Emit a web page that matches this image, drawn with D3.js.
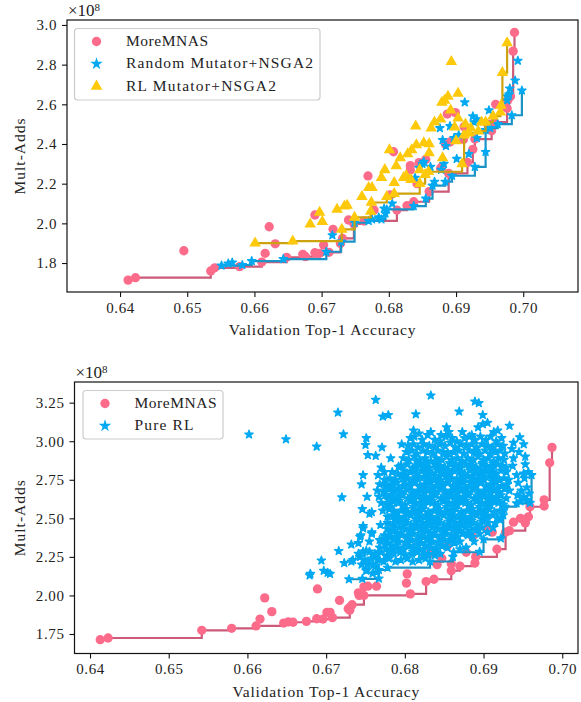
<!DOCTYPE html>
<html>
<head>
<meta charset="utf-8">
<script src="https://cdn.jsdelivr.net/npm/d3@7"></script>
<style>
  html, body { margin: 0; padding: 0; background: #fff; }
  svg { display: block; }
  text { font-family: "Liberation Serif", serif; fill: #222; }
</style>
</head>
<body>
<div id="chart"></div>
<script>
// values: [top-1 accuracy, mult-adds / 1e8]
const xTicksTop = [0.64, 0.65, 0.66, 0.67, 0.68, 0.69, 0.70];
const yTicksTop = [1.8, 2.0, 2.2, 2.4, 2.6, 2.8, 3.0];
const xTicksBottom = [0.64, 0.65, 0.66, 0.67, 0.68, 0.69, 0.70];
const yTicksBottom = [1.75, 2.0, 2.25, 2.5, 2.75, 3.0, 3.25];

const moreMnasTop = [
  [.6412,1.714],[.6423,1.726],[.6495,1.862],[.6535,1.76],[.6541,1.776],[.6578,1.782],[.6611,1.805],[.6616,1.849],
  [.6622,1.983],[.6631,1.897],[.6648,1.829],[.6672,1.844],[.6676,1.832],[.669,2.042],[.669,1.852],[.6697,1.849],
  [.6703,1.891],[.6711,1.854],[.6717,1.97],[.6728,1.899],[.6731,1.924],[.674,2.017],[.6748,1.997],[.6763,2.012],
  [.6769,2.239],[.6778,2.067],[.6802,2.143],[.6807,2.361],[.6812,2.067],[.6827,2.089],[.6837,2.109],[.686,2.16],
  [.6832,2.269],[.6832,2.291],[.6842,2.2],[.6845,2.306],[.6855,2.322],[.6879,2.285],[.6877,2.277],[.6889,2.252],
  [.6887,2.551],[.6899,2.558],[.6917,2.307],[.6925,2.373],[.6928,2.425],[.6911,2.423],[.6912,2.487],[.6884,2.4],
  [.6891,2.41],[.6953,2.467],[.6947,2.5],[.6957,2.51],[.6959,2.6],[.6976,2.58],[.6977,2.62],[.6981,2.64],
  [.6985,2.868],[.6987,2.962]
];

const randomMutator = [
  [.6551,1.787],[.6561,1.798],[.6567,1.803],[.6582,1.79],[.6596,1.81],[.6643,1.82],[.6707,1.857],[.6716,1.94],
  [.6729,1.908],[.6749,2.003],[.677,2.012],[.6775,2.02],[.6785,2.03],[.6789,2.02],[.6793,2.075],[.6797,2.07],
  [.6795,2.05],[.6805,2.1],[.6837,2.087],[.6855,2.125],[.6865,2.19],[.6868,2.21],[.6884,2.21],[.6894,2.24],
  [.6839,2.23],[.6845,2.28],[.685,2.3],[.6852,2.31],[.6862,2.285],[.6878,2.27],[.6882,2.3],[.6901,2.325],
  [.6919,2.35],[.6928,2.285],[.6944,2.36],[.688,2.42],[.6885,2.39],[.6876,2.48],[.6891,2.49],[.6904,2.445],
  [.6897,2.43],[.6925,2.54],[.6927,2.51],[.6931,2.525],[.6931,2.43],[.6913,2.61],[.6949,2.57],[.6944,2.47],
  [.6951,2.48],[.6962,2.5],[.6983,2.545],[.6976,2.62],[.6979,2.65],[.698,2.68],[.6988,2.72],[.6992,2.82],
  [.6998,2.67],[.6976,2.64]
];

const rlMutator = [
  [.6601,1.9],[.6657,1.91],[.6683,1.996],[.6701,2.008],[.6697,2.055],[.6723,2.07],[.6734,2.087],[.6738,2.09],
  [.673,1.97],[.6749,2.03],[.676,2.135],[.6773,2.06],[.6774,2.105],[.677,2.18],[.6775,2.18],[.6789,2.23],
  [.6794,2.27],[.6797,2.135],[.6808,2.15],[.6808,2.205],[.6801,2.37],[.6811,2.29],[.6817,2.33],[.6822,2.23],
  [.6826,2.24],[.6828,2.35],[.6834,2.37],[.6841,2.395],[.6833,2.22],[.6846,2.27],[.6846,2.2],[.6854,2.245],
  [.6859,2.26],[.686,2.355],[.6852,2.405],[.686,2.4],[.684,2.49],[.6863,2.48],[.6868,2.51],[.6877,2.525],
  [.6879,2.61],[.6883,2.62],[.6888,2.64],[.6903,2.655],[.6893,2.815],[.6892,2.57],[.6903,2.53],[.6898,2.485],
  [.69,2.415],[.688,2.33],[.6909,2.3],[.6912,2.445],[.6914,2.5],[.6919,2.455],[.6922,2.48],[.6933,2.465],
  [.6938,2.51],[.6944,2.51],[.6955,2.54],[.6966,2.56],[.6967,2.595],[.6969,2.76],[.6976,2.91]
];

const moreMnasBottom = [
  [.6413,1.713],[.6423,1.724],[.6542,1.774],[.658,1.787],[.6611,1.802],[.6616,1.847],[.6622,1.984],[.6631,1.895],
  [.6646,1.821],[.6652,1.828],[.6658,1.826],[.6675,1.832],[.6688,1.849],[.6689,2.042],[.6696,1.847],[.6701,1.89],
  [.6705,1.89],[.6708,1.856],[.6717,1.968],[.6728,1.914],[.673,1.904],[.6731,1.926],[.6733,1.94],[.6741,2.017],
  [.6742,2.0],[.6748,2.0],[.6748,2.056],[.6753,2.06],[.6764,2.06],[.6802,2.08],[.6803,2.14],[.6807,2.01],
  [.6827,2.09],[.6837,2.105],[.6841,2.2],[.6847,2.24],[.6854,2.32],[.6859,2.205],[.6859,2.16],[.687,2.19],
  [.6878,2.28],[.6889,2.21],[.689,2.25],[.6832,2.27],[.6886,2.38],[.6904,2.43],[.6911,2.41],[.6917,2.3],
  [.6928,2.41],[.6933,2.42],[.6938,2.475],[.6947,2.5],[.6953,2.47],[.6957,2.51],[.6959,2.575],[.6977,2.58],
  [.6977,2.62],[.6984,2.86],[.6987,2.96]
];

const pureRl = [
  // stragglers around the cloud
  [.6602,3.044],[.6649,3.013],[.6688,2.965],[.6694,2.227],[.6679,2.13],[.668,2.14],[.6697,2.16],[.6702,2.147],
  [.6705,2.14],[.6716,2.288],[.672,2.636],[.6722,3.045],[.6715,3.186],[.6763,3.268],[.6833,3.297],[.6889,3.258],
  [.6894,3.247],[.6869,3.193],[.6814,3.175],[.6899,3.17],[.6772,3.16],[.6779,3.17],[.6933,3.1],[.6946,3.026],
  // lower edge of the cloud
  [.6729,2.105],[.6746,2.108],[.6767,2.11],[.6778,2.18],[.6832,2.22],[.6861,2.25],[.6895,2.283],[.69,2.364],
  [.6922,2.37],[.6927,2.576],[.6942,2.597],[.6961,2.78],
  // outliers on the left flank
  [.6751,3.02],[.675,2.976],[.6771,2.96],[.6796,2.98],[.6753,2.91],[.6763,2.905],[.6782,2.89],[.677,2.83],
  [.6792,2.835],[.6747,2.78],[.6766,2.78],[.6774,2.8],[.6745,2.72],[.6752,2.64],[.6746,2.56],[.6755,2.53],
  [.6758,2.54],[.6769,2.457],[.6747,2.45],[.6744,2.39],[.6758,2.41],[.6732,2.33],[.6741,2.34],[.6755,2.35],
  [.6741,2.27],[.6751,2.29],[.6734,2.23],[.6723,2.21],[.6743,2.25],[.6757,2.24],[.6751,2.16],[.6764,2.15],
  [.6752,2.2],[.6763,2.19],[.6745,2.2],
  [.6747,2.284],[.6743,2.25],[.6732,2.22],[.6751,2.165],[.676,2.197],[.6768,2.23],[.6777,2.25],[.6785,2.294],
  [.6758,2.4],[.6747,2.435],[.6768,2.36],[.6775,2.38],[.6743,2.38],[.6755,2.284],[.6764,2.262],[.6749,2.23],
  [.6753,2.208],[.6759,2.143],[.6767,2.165],
  // right lobe
  [.6938,2.99],[.6951,2.98],[.6936,2.95],[.6945,2.93],[.6953,2.9],[.6938,2.89],[.6937,2.84],[.6953,2.85],
  [.6942,2.78],[.6951,2.79],[.6957,2.8],[.6944,2.73],[.6952,2.76],[.6948,2.68],[.6955,2.7],[.6943,2.65],
  [.6951,2.64],[.6958,2.66],[.6947,2.61],[.6955,2.62],[.6959,2.6],
  // underside of the cloud, right of centre
  [.6915,2.47],[.6921,2.49],[.6925,2.52],[.6912,2.44],[.6905,2.41],[.6895,2.4],[.6888,2.35],[.6878,2.31],
  [.687,2.3],[.6862,2.28],
  // main cloud, top to bottom
  [.6811,3.07],[.6818,3.05],[.6833,3.06],[.6846,3.04],[.6853,3.09],[.6856,3.06],[.6873,3.06],[.6885,3.04],
  [.6893,3.09],[.6899,3.11],[.6905,3.12],[.6913,3.06],[.6918,3.07],
  [.6807,3.02],[.6812,3.03],[.6822,3.01],[.6829,3.04],[.6838,3.01],[.6845,3.0],[.6852,3.03],[.686,3.02],
  [.6866,3.0],[.6876,3.02],[.6882,3.03],[.6889,3.01],[.6896,3.03],[.6903,3.01],[.6909,3.03],[.6916,3.0],[.6923,3.02],
  [.6804,2.97],[.6811,2.98],[.6817,2.96],[.6824,2.98],[.6831,2.97],[.6838,2.96],[.6844,2.98],[.6851,2.97],
  [.6858,2.99],[.6864,2.96],[.6871,2.98],[.6878,2.97],[.6885,2.98],[.6891,2.96],[.6898,2.98],[.6905,2.97],
  [.6911,2.96],[.6918,2.98],[.6925,2.97],
  [.6802,2.93],[.6809,2.94],[.6815,2.92],[.6823,2.94],[.6829,2.93],[.6836,2.92],[.6842,2.94],[.6849,2.93],
  [.6855,2.92],[.6862,2.93],[.6869,2.94],[.6875,2.92],[.6882,2.94],[.6888,2.93],[.6895,2.92],[.6902,2.94],
  [.6908,2.92],[.6915,2.93],[.6921,2.94],[.6927,2.92],
  [.6798,2.89],[.6805,2.88],[.6812,2.9],[.6819,2.88],[.6826,2.89],[.6833,2.87],[.684,2.89],[.6847,2.88],
  [.6853,2.9],[.686,2.88],[.6867,2.89],[.6873,2.87],[.688,2.89],[.6887,2.88],[.6893,2.9],[.69,2.88],
  [.6906,2.89],[.6913,2.87],[.6919,2.89],[.6926,2.88],
  [.6795,2.84],[.6803,2.85],[.681,2.83],[.6817,2.85],[.6824,2.84],[.6831,2.83],[.6838,2.85],[.6845,2.84],
  [.6851,2.83],[.6858,2.85],[.6865,2.84],[.6871,2.83],[.6878,2.85],[.6885,2.84],[.6891,2.83],[.6898,2.85],
  [.6904,2.84],[.6911,2.83],[.6918,2.85],[.6924,2.84],[.6929,2.83],
  [.6784,2.8],[.6791,2.79],[.6799,2.81],[.6807,2.8],[.6814,2.79],[.6821,2.81],[.6828,2.8],[.6835,2.79],
  [.6842,2.81],[.6849,2.8],[.6856,2.79],[.6862,2.81],[.6869,2.8],[.6876,2.79],[.6883,2.81],[.6889,2.8],
  [.6896,2.79],[.6902,2.81],[.6909,2.8],[.6916,2.79],[.6922,2.81],[.6929,2.8],
  [.6774,2.75],[.6781,2.76],[.6788,2.75],[.6795,2.77],[.6803,2.76],[.681,2.75],[.6817,2.76],[.6824,2.77],
  [.6831,2.75],[.6838,2.76],[.6845,2.75],[.6852,2.77],[.6859,2.76],[.6866,2.75],[.6873,2.76],[.688,2.77],
  [.6887,2.75],[.6893,2.76],[.69,2.75],[.6907,2.77],[.6914,2.76],[.692,2.75],[.6926,2.76],[.6932,2.75],
  [.6768,2.72],[.6775,2.71],[.6783,2.72],[.679,2.73],[.6798,2.71],[.6805,2.72],[.6812,2.73],[.6819,2.71],
  [.6826,2.72],[.6833,2.73],[.684,2.71],[.6847,2.72],[.6854,2.73],[.6861,2.71],[.6868,2.72],[.6875,2.73],
  [.6882,2.71],[.6889,2.72],[.6896,2.73],[.6903,2.71],[.691,2.72],[.6916,2.73],[.6923,2.71],[.693,2.72],
  [.6765,2.68],[.6773,2.67],[.678,2.69],[.6787,2.68],[.6794,2.67],[.6802,2.69],[.6809,2.68],[.6816,2.67],
  [.6823,2.69],[.683,2.68],[.6837,2.67],[.6844,2.69],[.6851,2.68],[.6858,2.67],[.6865,2.69],[.6872,2.68],
  [.6879,2.67],[.6886,2.69],[.6893,2.68],[.69,2.67],[.6907,2.69],[.6914,2.68],[.692,2.67],[.6927,2.69],[.6933,2.68],
  [.6767,2.64],[.6775,2.65],[.6782,2.63],[.6789,2.64],[.6797,2.65],[.6804,2.63],[.6811,2.64],[.6818,2.65],
  [.6825,2.63],[.6832,2.64],[.6839,2.65],[.6846,2.63],[.6853,2.64],[.686,2.65],[.6867,2.63],[.6874,2.64],
  [.6881,2.65],[.6888,2.63],[.6895,2.64],[.6902,2.65],[.6909,2.63],[.6916,2.64],[.6922,2.65],[.6929,2.63],
  [.677,2.6],[.6777,2.59],[.6785,2.61],[.6792,2.6],[.68,2.59],[.6807,2.61],[.6814,2.6],[.6821,2.59],
  [.6828,2.61],[.6835,2.6],[.6842,2.59],[.6849,2.61],[.6856,2.6],[.6863,2.59],[.687,2.61],[.6877,2.6],
  [.6884,2.59],[.6891,2.61],[.6898,2.6],[.6905,2.59],[.6912,2.61],[.6919,2.6],[.6925,2.59],
  [.6772,2.55],[.678,2.56],[.6787,2.54],[.6795,2.55],[.6802,2.56],[.6809,2.54],[.6816,2.55],[.6823,2.56],
  [.683,2.54],[.6837,2.55],[.6844,2.56],[.6851,2.54],[.6858,2.55],[.6865,2.56],[.6872,2.54],[.6879,2.55],
  [.6886,2.56],[.6893,2.54],[.69,2.55],[.6907,2.56],[.6914,2.54],[.6921,2.55],[.6926,2.56],
  [.6778,2.51],[.6785,2.52],[.6793,2.5],[.68,2.51],[.6807,2.52],[.6814,2.5],[.6821,2.51],[.6828,2.52],
  [.6835,2.5],[.6842,2.51],[.6849,2.52],[.6856,2.5],[.6863,2.51],[.687,2.52],[.6877,2.5],[.6884,2.51],
  [.6891,2.52],[.6898,2.5],[.6905,2.51],[.6912,2.52],[.6918,2.5],
  [.6778,2.47],[.6786,2.46],[.6793,2.48],[.6801,2.47],[.6808,2.46],[.6815,2.48],[.6822,2.47],[.6829,2.46],
  [.6836,2.48],[.6843,2.47],[.685,2.46],[.6857,2.48],[.6864,2.47],[.6871,2.46],[.6878,2.48],[.6885,2.47],
  [.6892,2.46],[.6899,2.48],[.6906,2.47],
  [.6778,2.43],[.6785,2.42],[.6793,2.44],[.68,2.43],[.6807,2.42],[.6814,2.44],[.6821,2.43],[.6828,2.42],
  [.6835,2.44],[.6842,2.43],[.6849,2.42],[.6856,2.44],[.6863,2.43],[.687,2.42],[.6877,2.44],[.6884,2.42],
  [.6891,2.43],[.6898,2.44],
  [.6774,2.39],[.6782,2.38],[.6789,2.4],[.6796,2.39],[.6803,2.38],[.681,2.4],[.6817,2.39],[.6824,2.38],
  [.6831,2.4],[.6838,2.39],[.6845,2.38],[.6852,2.4],[.6859,2.39],[.6866,2.38],[.6873,2.4],[.688,2.39],[.6886,2.38],
  [.677,2.35],[.6778,2.34],[.6785,2.36],[.6792,2.35],[.68,2.34],[.6807,2.36],[.6814,2.35],[.6821,2.34],
  [.6828,2.36],[.6835,2.35],[.6842,2.34],[.6849,2.36],[.6856,2.35],[.6863,2.34],[.687,2.35],
  [.6768,2.31],[.6776,2.3],[.6783,2.32],[.679,2.31],[.6798,2.3],[.6805,2.32],[.6812,2.31],[.6819,2.3],
  [.6826,2.32],[.6833,2.31],[.684,2.3],[.6847,2.32],[.6854,2.31],
  [.6762,2.27],[.677,2.28],[.6778,2.26],[.6786,2.27],[.6794,2.28],[.6801,2.26],[.6809,2.27],[.6816,2.28],
  [.6823,2.26],[.683,2.27],[.6838,2.26],[.6845,2.27],
  [.6765,2.23],[.6773,2.22],[.678,2.24],[.6788,2.22],[.6795,2.23],[.6803,2.24],[.681,2.22],[.6818,2.23],[.6826,2.24],
  // the dense core, where the stars overlap
  [.6815,2.87],[.6829,2.86],[.6843,2.865],[.6857,2.86],[.6871,2.855],[.6885,2.865],[.6899,2.86],[.6912,2.855],
  [.6813,2.82],[.6827,2.825],[.6841,2.82],[.6855,2.815],[.6869,2.825],[.6883,2.82],[.6897,2.815],[.6911,2.82],
  [.6802,2.78],[.6816,2.785],[.683,2.78],[.6844,2.775],[.6858,2.785],[.6872,2.78],[.6886,2.775],[.69,2.785],[.6914,2.78],
  [.6785,2.735],[.6799,2.74],[.6813,2.745],[.6827,2.74],[.6841,2.735],[.6855,2.745],[.6869,2.74],[.6883,2.735],[.6897,2.745],[.6911,2.74],
  [.6778,2.7],[.6792,2.695],[.6806,2.705],[.682,2.7],[.6834,2.695],[.6848,2.705],[.6862,2.7],[.6876,2.695],[.689,2.705],[.6904,2.7],[.6918,2.695],
  [.6783,2.655],[.6797,2.66],[.6811,2.655],[.6825,2.665],[.6839,2.66],[.6853,2.655],[.6867,2.665],[.6881,2.66],[.6895,2.655],[.6909,2.665],
  [.6779,2.62],[.6793,2.615],[.6807,2.625],[.6821,2.62],[.6835,2.615],[.6849,2.625],[.6863,2.62],[.6877,2.615],[.6891,2.625],[.6905,2.62],[.6919,2.615],
  [.6783,2.575],[.6797,2.58],[.6811,2.575],[.6825,2.585],[.6839,2.58],[.6853,2.575],[.6867,2.585],[.6881,2.58],[.6895,2.575],[.6909,2.585],
  [.6789,2.53],[.6803,2.535],[.6817,2.53],[.6831,2.525],[.6845,2.535],[.6859,2.53],[.6873,2.525],[.6887,2.535],[.6901,2.53],
  [.6787,2.49],[.6801,2.485],[.6815,2.495],[.6829,2.49],[.6843,2.485],[.6857,2.495],[.6871,2.49],[.6885,2.485],[.6899,2.495],
  [.6785,2.45],[.6799,2.455],[.6813,2.45],[.6827,2.445],[.6841,2.455],[.6855,2.45],[.6869,2.445],[.6883,2.455],
  [.6781,2.41],[.6795,2.405],[.6809,2.415],[.6823,2.41],[.6837,2.405],[.6851,2.415],[.6865,2.41],[.6879,2.405],
  [.6777,2.37],[.6791,2.375],[.6805,2.37],[.6819,2.365],[.6833,2.375],[.6847,2.37],[.6861,2.365],
  [.6775,2.33],[.6789,2.325],[.6803,2.335],[.6817,2.33],[.6831,2.325],[.6845,2.335],
  [.6782,2.285],[.6796,2.29],[.681,2.285],[.6824,2.295],[.6838,2.29]
];

const seriesColor = { red: "#fd6b8b", blue: "#00a9f1", yellow: "#fdc90a" };
const lineColor = { red: "#cc5a78", blue: "#1b93c6", yellow: "#cca20f" };

const width = 581;
const height = 702;

const svg = d3.select("#chart").append("svg")
  .attr("width", width)
  .attr("height", height);

const markers = {
  circle: d3.symbol().type(d3.symbolCircle).size(68),
  star: d3.symbol().type(d3.symbolStar).size(21),
  triangle: d3.symbol().type(d3.symbolTriangle).size(58)
};

// lower-right envelope, walked from the most accurate point to the left
function paretoFront(points) {
  const sorted = points.slice().sort((a, b) => b[0] - a[0] || b[1] - a[1]);
  const front = [];
  let best = Infinity;
  sorted.forEach((p) => {
    if (p[1] < best) {
      front.push(p);
      best = p[1];
    }
  });
  return front.reverse();
}

function drawPanel(cfg) {
  const x = d3.scaleLinear().domain(cfg.xDomain).range([cfg.left, cfg.right]);
  const y = d3.scaleLinear().domain(cfg.yDomain).range([cfg.bottom, cfg.top]);

  const xAxis = d3.axisBottom(x).tickValues(cfg.xTicks).tickFormat(d3.format(".2f")).tickSize(5).tickPadding(5);
  const yAxis = d3.axisLeft(y).tickValues(cfg.yTicks).tickFormat(d3.format(cfg.yFormat)).tickSize(5).tickPadding(5);

  const line = d3.line()
    .x((d) => x(d[0]))
    .y((d) => y(d[1]))
    .curve(d3.curveStepAfter);

  const plot = svg.append("g");

  cfg.series.forEach((s) => {
    plot.append("path")
      .attr("d", line(paretoFront(s.points)))
      .attr("fill", "none")
      .attr("stroke", lineColor[s.color])
      .attr("stroke-width", 2.2);

    plot.selectAll(null)
      .data(s.points)
      .enter()
      .append("path")
      .attr("d", markers[s.marker])
      .attr("transform", (d) => `translate(${x(d[0])},${y(d[1])})`)
      .attr("fill", seriesColor[s.color])
      .attr("stroke", seriesColor[s.color])
      .attr("stroke-width", s.marker === "star" ? 1.4 : 0)
      .attr("stroke-linejoin", "round");
  });

  // axes go on top, frame last
  svg.append("g").attr("transform", `translate(0,${cfg.bottom})`).call(xAxis).call(styleAxis);
  svg.append("g").attr("transform", `translate(${cfg.left},0)`).call(yAxis).call(styleAxis);

  svg.append("rect")
    .attr("x", cfg.left)
    .attr("y", cfg.top)
    .attr("width", cfg.right - cfg.left)
    .attr("height", cfg.bottom - cfg.top)
    .attr("fill", "none")
    .attr("stroke", "#111")
    .attr("stroke-width", 1.2);

  // offset text above the y axis
  const offset = svg.append("text")
    .attr("x", cfg.left + 1)
    .attr("y", cfg.top - 4)
    .style("font-size", "17px");
  offset.append("tspan").text("×10");
  offset.append("tspan").attr("dy", -5).style("font-size", "11px").text("8");

  svg.append("text")
    .attr("x", (cfg.left + cfg.right) / 2)
    .attr("y", cfg.bottom + 43)
    .attr("text-anchor", "middle")
    .style("font-size", "15.5px")
    .style("letter-spacing", "0.85px")
    .text("Validation Top-1 Accuracy");

  svg.append("text")
    .attr("transform", `translate(25,${(cfg.top + cfg.bottom) / 2}) rotate(-90)`)
    .attr("text-anchor", "middle")
    .style("font-size", "15.5px")
    .style("letter-spacing", "1px")
    .text("Mult-Adds");

  // legend
  const legend = svg.append("g");
  legend.append("rect")
    .attr("x", cfg.legend.x)
    .attr("y", cfg.legend.y)
    .attr("width", cfg.legend.width)
    .attr("height", cfg.legend.height)
    .attr("rx", 3)
    .attr("fill", "#fff")
    .attr("fill-opacity", 0.8)
    .attr("stroke", "#ccc")
    .attr("stroke-width", 1.2);

  cfg.series.forEach((s, i) => {
    const rowY = cfg.legend.y + cfg.legend.firstRow + i * cfg.legend.rowGap;
    legend.append("path")
      .attr("d", markers[s.marker])
      .attr("transform", `translate(${cfg.legend.x + 22},${rowY})`)
      .attr("fill", seriesColor[s.color])
      .attr("stroke", seriesColor[s.color])
      .attr("stroke-width", s.marker === "star" ? 1.4 : 0);
    legend.append("text")
      .attr("x", cfg.legend.x + 51.5)
      .attr("y", rowY + 4.5)
      .attr("textLength", s.textWidth)
      .attr("lengthAdjust", "spacing")
      .style("font-size", "15.5px")
      .text(s.name);
  });
}

function styleAxis(g) {
  g.select(".domain").remove();
  g.selectAll(".tick line").attr("stroke", "#111").attr("stroke-width", 1.1);
  g.selectAll(".tick text")
    .style("font-family", '"Liberation Serif", serif')
    .style("font-size", "15px")
    .style("letter-spacing", "0.6px")
    .attr("fill", "#222");
}

drawPanel({
  left: 67, right: 578, top: 20, bottom: 292,
  xDomain: [0.63211, 0.70815],
  yDomain: [1.654, 3.025],
  xTicks: xTicksTop,
  yTicks: yTicksTop,
  yFormat: ".1f",
  legend: { x: 74.5, y: 28.5, width: 245.5, height: 71.5, firstRow: 13, rowGap: 22.4 },
  series: [
    { name: "MoreMNAS", points: moreMnasTop, color: "red", marker: "circle", textWidth: 82 },
    { name: "Random Mutator+NSGA2", points: randomMutator, color: "blue", marker: "star", textWidth: 187 },
    { name: "RL Mutator+NSGA2", points: rlMutator, color: "yellow", marker: "triangle", textWidth: 150 }
  ]
});

drawPanel({
  left: 74.5, right: 578, top: 382, bottom: 653.5,
  xDomain: [0.63803, 0.702],
  yDomain: [1.6235, 3.384],
  xTicks: xTicksBottom,
  yTicks: yTicksBottom,
  yFormat: ".2f",
  legend: { x: 83, y: 390.5, width: 140, height: 48.5, firstRow: 13, rowGap: 22.4 },
  series: [
    { name: "MoreMNAS", points: moreMnasBottom, color: "red", marker: "circle", textWidth: 82 },
    { name: "Pure RL", points: pureRl, color: "blue", marker: "star", textWidth: 59 }
  ]
});
</script>
</body>
</html>
